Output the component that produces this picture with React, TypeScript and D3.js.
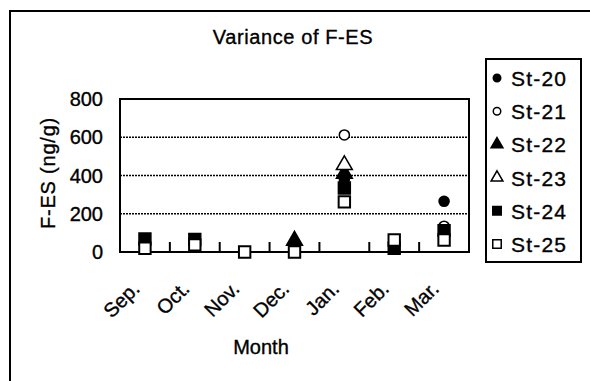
import React, { useEffect, useRef } from "react";
import * as d3 from "d3";

// months on the x axis
const months = ["Sep.", "Oct.", "Nov.", "Dec.", "Jan.", "Feb.", "Mar."];
const yTicks = [0, 200, 400, 600, 800];

// F-ES (ng/g) per station (null = hidden / not readable)
const st20 = [null, null, null, null, 380, null, 265];
const st21 = [null, null, null, null, 612, null, 135];
const st22 = [null, null, null, 60, 410, null, null];
const st23 = [null, null, null, null, 455, null, null];
const st24 = [68, 65, null, null, 335, 20, 112];
const st25 = [20, 37, 0, 0, 262, 63, 63];

const series = [
  { name: "St-20", values: st20, shape: "circle", filled: true },
  { name: "St-21", values: st21, shape: "circle", filled: false },
  { name: "St-22", values: st22, shape: "triangle", filled: true },
  { name: "St-23", values: st23, shape: "triangle", filled: false },
  { name: "St-24", values: st24, shape: "square", filled: true },
  { name: "St-25", values: st25, shape: "square", filled: false },
];

const font = "'Liberation Sans', Arial, sans-serif";

function symbolPath(shape: string, big: boolean) {
  const t = shape === "circle" ? d3.symbolCircle : shape === "triangle" ? d3.symbolTriangle : d3.symbolSquare;
  let size = shape === "circle" ? 80 : shape === "triangle" ? 110 : 130;
  if (!big) size = size * 0.55;
  return d3.symbol().type(t).size(size)();
}

// slightly heavier text like the picture
function txt(sel: any, size: number) {
  return sel.style("font-family", font).style("font-size", `${size}px`)
    .attr("fill", "black").attr("stroke", "black").attr("stroke-width", 0.35);
}

export default function App() {
  const ref = useRef<SVGSVGElement>(null);

  useEffect(() => {
    const width = 590;
    const height = 381;
    const margin = { top: 99, right: 121, bottom: 129, left: 120 }; // plot box 120..469, 99..252
    const innerWidth = width - margin.left - margin.right;
    const innerHeight = height - margin.top - margin.bottom;

    const svg = d3.select(ref.current);
    svg.selectAll("*").remove();

    // outer frame (runs past the right / bottom edge like the picture)
    svg.append("rect").attr("x", 10).attr("y", 11).attr("width", 600).attr("height", 400)
      .attr("fill", "white").attr("stroke", "black").attr("stroke-width", 2);

    txt(svg.append("text"), 20).attr("x", 293).attr("y", 44).attr("text-anchor", "middle")
      .attr("letter-spacing", 0.6).text("Variance of F-ES");

    const g = svg.append("g").attr("transform", `translate(${margin.left}, ${margin.top})`);

    const x = d3.scaleBand().domain(months).range([0, innerWidth]);
    const y = d3.scaleLinear().domain([0, 800]).range([innerHeight, 0]);

    // dotted grid lines
    g.selectAll(".grid").data(yTicks.filter(d => d > 0 && d < 800)).join("line")
      .attr("class", "grid")
      .attr("x1", 0).attr("x2", innerWidth)
      .attr("y1", d => y(d)).attr("y2", d => y(d))
      .attr("stroke", "black").attr("stroke-width", 1.5).attr("stroke-dasharray", "2,1");

    // plot box
    g.append("rect").attr("width", innerWidth).attr("height", innerHeight)
      .attr("fill", "none").attr("stroke", "black").attr("stroke-width", 2);

    // inward x ticks at band edges
    g.selectAll(".xtick").data(months.slice(1)).join("line")
      .attr("class", "xtick")
      .attr("x1", d => x(d)!).attr("x2", d => x(d)!)
      .attr("y1", innerHeight).attr("y2", innerHeight - 10)
      .attr("stroke", "black").attr("stroke-width", 2);

    // y tick labels
    txt(g.selectAll(".ylab").data(yTicks).join("text"), 20)
      .attr("class", "ylab")
      .attr("x", -17).attr("y", d => y(d) + 7)
      .attr("text-anchor", "end")
      .text(d => d);

    // x tick labels, rotated
    txt(g.selectAll(".xlab").data(months).join("text"), 20)
      .attr("class", "xlab")
      .attr("text-anchor", "end")
      .attr("transform", d => `translate(${x(d)! + x.bandwidth() / 2 - 4}, ${innerHeight + 38}) rotate(-45)`)
      .text(d => d);

    txt(svg.append("text"), 20).attr("x", 261).attr("y", 354).attr("text-anchor", "middle").text("Month");

    txt(svg.append("text"), 20).attr("transform", `translate(55, 173) rotate(-90)`).attr("text-anchor", "middle")
      .attr("letter-spacing", 0.8).text("F-ES (ng/g)");

    // markers
    series.forEach(s => {
      const pts = months.map((m, i) => ({ m, v: s.values[i] })).filter(p => p.v !== null);
      g.selectAll(`.pt-${s.name}`).data(pts).join("path")
        .attr("class", `pt-${s.name}`)
        .attr("d", symbolPath(s.shape, true))
        .attr("transform", p => `translate(${x(p.m)! + x.bandwidth() / 2}, ${y(p.v as number)})`)
        .attr("fill", s.filled ? "black" : "white")
        .attr("stroke", "black").attr("stroke-width", s.shape === "square" ? 2 : 1.5);
    });

    // legend
    const lg = svg.append("g").attr("transform", "translate(486, 59)");
    lg.append("rect").attr("width", 95).attr("height", 203)
      .attr("fill", "white").attr("stroke", "black").attr("stroke-width", 2);
    series.forEach((s, i) => {
      const cy = 19 + i * 33.2;
      lg.append("path").attr("d", symbolPath(s.shape, false))
        .attr("transform", `translate(11, ${cy})`)
        .attr("fill", s.filled ? "black" : "white")
        .attr("stroke", "black").attr("stroke-width", 1.5);
      txt(lg.append("text"), 21).attr("x", 25).attr("y", cy + 8)
        .attr("letter-spacing", 1.2).text(s.name);
    });
  }, []);

  return (
    <svg ref={ref} width={590} height={381} style={{ position: "absolute", left: 0, top: 0, background: "white" }} />
  );
}
